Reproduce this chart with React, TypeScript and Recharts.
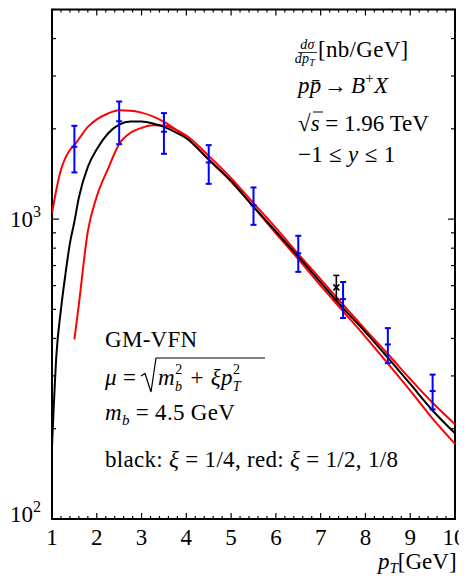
import React from 'react';
import {
  ComposedChart, Line, Scatter, ErrorBar, XAxis, YAxis, ReferenceArea,
} from 'recharts';

// ── theory curves: dσ/dpT [nb/GeV] ──
const PT_GRID = [1, 1.1, 1.2, 1.3, 1.4, 1.5, 1.6, 1.8, 2, 2.25, 2.5, 2.75, 3, 3.25, 3.5, 3.75, 4, 4.5, 5, 5.5, 6, 6.5, 7, 7.5, 8, 8.5, 9, 9.5, 10];
const BLACK_CURVE = [174, 355, 500, 655, 830, 980, 1180, 1494, 1710, 1930, 2065, 2115, 2115, 2085, 2030, 1950, 1860, 1580, 1340, 1100, 910, 750, 615, 505, 420, 345, 282, 230, 193];
const RED_CURVE_A = [1045, 1260, 1460, 1600, 1700, 1765, 1850, 2030, 2150, 2250, 2305, 2300, 2265, 2200, 2110, 1995, 1870, 1580, 1335, 1098, 897, 736, 600, 493, 405, 330, 268, 216, 178];

const PT_GRID_B = [1.5, 1.6, 1.8, 2, 2.25, 2.5, 2.75, 3, 3.25, 3.5, 3.75, 4, 4.5, 5, 5.5, 6, 6.5, 7, 7.5, 8, 8.5, 9, 9.5, 10];
const RED_CURVE_B = [397, 520, 910, 1190, 1470, 1780, 1940, 2015, 2055, 2050, 1990, 1900, 1625, 1370, 1130, 935, 765, 630, 518, 428, 355, 293, 244, 207];

// ── measurements (blue) ──
const DATA_PT = [1.5, 2.5, 3.5, 4.5, 5.5, 6.5, 7.5, 8.5, 9.5];
const DATA_VAL = [1742, 2122, 1954, 1545, 1113, 769, 541, 382, 267];
const DATA_HI = [2047, 2467, 2257, 1765, 1275, 880, 617, 433, 303];
const DATA_LO = [1431, 1778, 1651, 1311, 957, 667, 468, 331, 232];

// ── single black point ──
const BLK_PT = [7.35];
const BLK_VAL = [592];
const BLK_HI = [649];
const BLK_LO = [540];

const X_LABELS = [1, 2, 3, 4, 5, 6, 7, 8, 9, 10];
const Y_TICKS = [100, 200, 300, 400, 500, 600, 700, 800, 900, 1000, 2000, 3000, 4000, 5000];
const Y_LABELS: Record<number, string> = { 100: '2', 1000: '3' };

const W = 459;
const H = 570;
const X_AXIS_H = 40;
const Y_AXIS_W = 40;
const M = { top: 1.5, right: 12, bottom: 59 - X_AXIS_H, left: 44 - Y_AXIS_W };
const PLOT_W = W - 44 - M.right;
const PLOT_H = H - M.top - 59;
const FONT = '"Liberation Serif", "DejaVu Serif", serif';
const FS = 23;
const LS = 0.3;

const curve = (xs: number[], ys: number[]) => xs.map((x, i) => ({ x, y: ys[i] }));
const points = (xs: number[], v: number[], hi: number[], lo: number[]) =>
  xs.map((x, i) => ({ x, y: v[i], err: [v[i] - lo[i], hi[i] - v[i]] }));

const X_TICKS: number[] = [];
for (let i = 0; i <= 45; i++) X_TICKS.push(Math.round((1 + i * 0.2) * 10) / 10);

const XTick = (p: any) => {
  const { x, y, payload } = p;
  const v = payload.value;
  const major = X_LABELS.includes(v);
  const len = major ? 6 : 3;
  return (
    <g>
      <line x1={x} x2={x} y1={y} y2={y - len} stroke="#000" strokeWidth={1.2} />
      <line x1={x} x2={x} y1={y - PLOT_H} y2={y - PLOT_H + len} stroke="#000" strokeWidth={1.2} />
      {major && (
        <text x={v === 10 ? x - 1 : x} y={y + 26} textAnchor="middle" fontFamily={FONT} fontSize={FS} fill="#000">{v}</text>
      )}
    </g>
  );
};

const YTick = (p: any) => {
  const { x, y, payload } = p;
  const v = payload.value;
  const major = v === 100 || v === 1000;
  const len = major ? 7 : 4;
  return (
    <g>
      <line x1={x} x2={x + len} y1={y} y2={y} stroke="#000" strokeWidth={1.2} />
      <line x1={x + PLOT_W} x2={x + PLOT_W - len} y1={y} y2={y} stroke="#000" strokeWidth={1.2} />
      {major && (
        <text x={x - 11} y={y + (v === 100 ? 3 : 8)} textAnchor="end" fontFamily={FONT} fontSize={FS} fill="#000">
          10<tspan fontSize={16} dy={-10}>{Y_LABELS[v]}</tspan>
        </text>
      )}
    </g>
  );
};

const Dash = (p: any) => (
  <line x1={p.cx - 3} x2={p.cx + 3} y1={p.cy} y2={p.cy} stroke="#0000ff" strokeWidth={2} />
);
const Cross = (p: any) => (
  <g stroke="#000" strokeWidth={1.6}>
    <line x1={p.cx - 3} x2={p.cx + 3} y1={p.cy - 3} y2={p.cy + 3} />
    <line x1={p.cx - 3} x2={p.cx + 3} y1={p.cy + 3} y2={p.cy - 3} />
  </g>
);

const it = { fontStyle: 'italic' as const };

function Labels() {
  return (
    <svg width={W} height={H} style={{ position: 'absolute', left: 0, top: 0, pointerEvents: 'none' }}>
      <g transform="translate(-8,-8)" fontFamily={FONT} fill="#000" letterSpacing={LS}>
        {/* dσ/dpT [nb/GeV] */}
        <text x={307.5} y={48.5} textAnchor="middle" fontSize={14}><tspan {...it}>dσ</tspan></text>
        <line x1={298} x2={317} y1={52.5} y2={52.5} stroke="#000" strokeWidth={0.8} />
        <text x={305} y={63} textAnchor="middle" fontSize={14}>
          <tspan {...it}>dp</tspan><tspan fontSize={10} dy={3} {...it}>T</tspan>
        </text>
        <text x={318} y={57} fontSize={FS}>[nb/GeV]</text>

        <text x={298} y={93} fontSize={FS}>
          <tspan {...it}>p{'p\u0304'}</tspan>
          <tspan dx={2}>→</tspan>
          <tspan dx={4} {...it}>B</tspan>
          <tspan fontSize={15} dy={-10}>+</tspan><tspan dy={10} {...it}>X</tspan>
        </text>
        <text x={298} y={131} fontSize={FS} letterSpacing={0}>
          √<tspan {...it}>s</tspan> = 1.96 TeV
        </text>
        <line x1={313} x2={323} y1={112} y2={112} stroke="#000" strokeWidth={1} />
        <text x={298} y={162} fontSize={FS}>
          −1 ≤ <tspan {...it}>y</tspan> ≤ 1
        </text>

        {/* scheme block */}
        <text x={105} y={347} fontSize={FS}>GM-VFN</text>
        <text x={105} y={385} fontSize={FS}>
          <tspan {...it}>μ</tspan> =
        </text>
        <path d="M141,376 L145,373.5 L151,392 L156,358 L265,358" fill="none" stroke="#000" strokeWidth={1.2} />
        <text x={158} y={385} fontSize={FS}>
          <tspan {...it}>m</tspan>
          <tspan fontSize={14} dy={6} {...it}>b</tspan>
          <tspan fontSize={14} dx={-7} dy={-17}>2</tspan>
          <tspan dx={8} dy={11}>+</tspan>
          <tspan dx={7} {...it}>ξp</tspan>
          <tspan fontSize={14} dy={6} {...it}>T</tspan>
          <tspan fontSize={14} dx={-8} dy={-17}>2</tspan>
        </text>
        <text x={105} y={420} fontSize={FS}>
          <tspan {...it}>m</tspan>
          <tspan fontSize={15} dy={5} {...it}>b</tspan>
          <tspan dy={-5}> = 4.5 GeV</tspan>
        </text>
        <text x={105} y={467} fontSize={FS}>
          black: <tspan {...it}>ξ</tspan> = 1/4, red: <tspan {...it}>ξ</tspan> = 1/2, 1/8
        </text>

        <text x={378} y={569} fontSize={FS} letterSpacing={0}>
          <tspan {...it}>p</tspan><tspan fontSize={15} dy={4} {...it}>T</tspan><tspan dy={-4}>[GeV]</tspan>
        </text>
      </g>
    </svg>
  );
}

export default function App() {
  return (
    <div style={{ position: 'relative', width: W, height: H }}>
      <ComposedChart width={W} height={H} margin={M}>
        <XAxis
          type="number" dataKey="x" domain={[1, 10]} allowDataOverflow
          ticks={X_TICKS} interval={0} tickSize={0} tickMargin={0}
          axisLine={false} tickLine={false} tick={(p: any) => <XTick {...p} />} height={X_AXIS_H}
        />
        <YAxis
          type="number" scale="log" domain={[100, 5000]} allowDataOverflow
          ticks={Y_TICKS} interval={0} tickSize={0} tickMargin={0}
          axisLine={false} tickLine={false} tick={(p: any) => <YTick {...p} />} width={Y_AXIS_W}
        />
        <Line data={curve(PT_GRID, RED_CURVE_A)} dataKey="y" type="monotone" stroke="#ff0000" strokeWidth={2} dot={false} isAnimationActive={false} />
        <Line data={curve(PT_GRID_B, RED_CURVE_B)} dataKey="y" type="monotone" stroke="#ff0000" strokeWidth={2} dot={false} isAnimationActive={false} />
        <Line data={curve(PT_GRID, BLACK_CURVE)} dataKey="y" type="monotone" stroke="#000" strokeWidth={2} dot={false} isAnimationActive={false} />
        <Scatter data={points(BLK_PT, BLK_VAL, BLK_HI, BLK_LO)} dataKey="y" shape={<Cross />} isAnimationActive={false}>
          <ErrorBar dataKey="err" direction="y" width={3} stroke="#000" strokeWidth={1.6} />
        </Scatter>
        <Scatter data={points(DATA_PT, DATA_VAL, DATA_HI, DATA_LO)} dataKey="y" shape={<Dash />} isAnimationActive={false}>
          <ErrorBar dataKey="err" direction="y" width={3} stroke="#0000ff" strokeWidth={2} />
        </Scatter>
        <ReferenceArea x1={1} x2={10} y1={100} y2={5000} fill="none" stroke="#000" strokeWidth={2} />
      </ComposedChart>
      <Labels />
    </div>
  );
}
